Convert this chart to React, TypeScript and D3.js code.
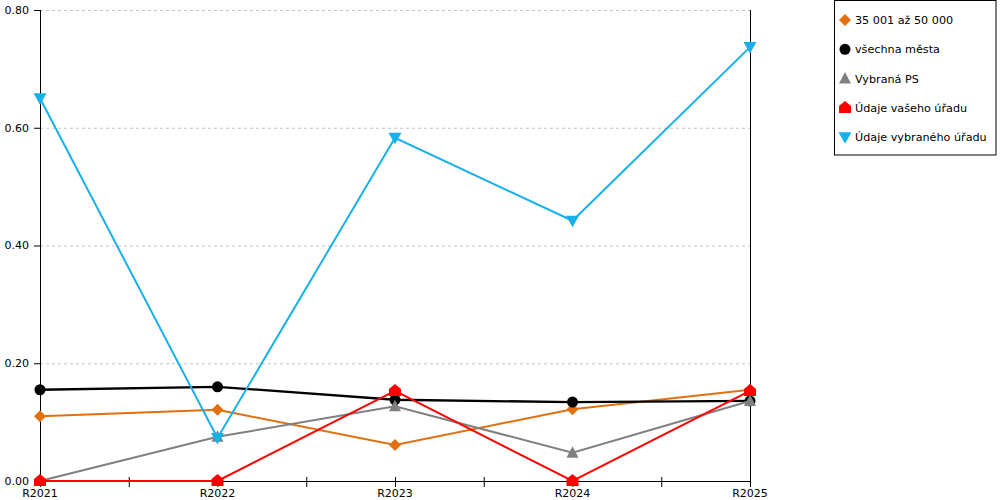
import * as d3 from "d3";

const WIDTH = 1000;
const HEIGHT = 500;

const categories = ["R2021", "R2022", "R2023", "R2024", "R2025"];
const yTicks = [0, 0.2, 0.4, 0.6, 0.8];

const skupina = [0.11, 0.121, 0.061, 0.122, 0.155];
const vsechnaMesta = [0.155, 0.16, 0.138, 0.134, 0.136];
const vybranaPS = [0, 0.075, 0.127, 0.048, 0.136];
const vasUrad = [0, 0, 0.153, 0, 0.153];
const vybranyUrad = [0.65, 0.073, 0.583, 0.442, 0.737];

type Shape = "diamond" | "circle" | "triangle" | "house" | "triangleDown";

const series: { label: string; color: string; shape: Shape; values: number[] }[] = [
    { label: "35 001 až 50 000", color: "#e2700f", shape: "diamond", values: skupina },
    { label: "všechna města", color: "#000000", shape: "circle", values: vsechnaMesta },
    { label: "Vybraná PS", color: "#808080", shape: "triangle", values: vybranaPS },
    { label: "Údaje vašeho úřadu", color: "#ff0000", shape: "house", values: vasUrad },
    { label: "Údaje vybraného úřadu", color: "#17b0ea", shape: "triangleDown", values: vybranyUrad },
];

const FONT = "'DejaVu Sans', Verdana, sans-serif";

function Marker({ shape, x, y, color }: { shape: Shape; x: number; y: number; color: string }) {
    switch (shape) {
        case "diamond":
            return <path d={`M${x},${y - 6}L${x + 6},${y}L${x},${y + 6}L${x - 6},${y}Z`} fill={color} />;
        case "circle":
            return <circle cx={x} cy={y} r={5.5} fill={color} />;
        case "triangle":
            return <path d={`M${x},${y - 6.5}L${x + 6},${y + 5}L${x - 6},${y + 5}Z`} fill={color} />;
        case "house":
            return <path d={`M${x},${y - 7}L${x + 6},${y - 2}L${x + 6},${y + 5}L${x - 6},${y + 5}L${x - 6},${y - 2}Z`} fill={color} />;
        case "triangleDown":
            return <path d={`M${x - 6.5},${y - 5}L${x + 6.5},${y - 5}L${x},${y + 6.5}Z`} fill={color} />;
    }
}

export default function App() {
    const margin = { top: 10, left: 40, right: 250, bottom: 19 };
    const innerBottom = HEIGHT - margin.bottom;
    const x = d3.scalePoint<string>().domain(categories).range([margin.left, WIDTH - margin.right]);
    const y = d3.scaleLinear().domain([0, 0.8]).range([innerBottom, margin.top]);
    const step = x.step();
    const minorTicks = categories.slice(1).map((c) => (x(c) ?? 0) - step / 2);

    const line = d3
        .line<number>()
        .x((_, i) => x(categories[i]) ?? 0)
        .y((d) => y(d));

    const legendX = 834.5;
    const legendY = 0.5;

    return (
        <svg
            width={WIDTH}
            height={HEIGHT}
            style={{ position: "absolute", left: 0, top: 0, background: "#fff" }}
            fontFamily={FONT}
        >
            {/* grid */}
            {yTicks.slice(1).map((t) => (
                <line
                    key={t}
                    x1={margin.left}
                    x2={WIDTH - margin.right}
                    y1={y(t) + 0.5}
                    y2={y(t) + 0.5}
                    stroke="#c4c4c4"
                    strokeDasharray="3,3"
                />
            ))}

            {/* y axis */}
            <line x1={margin.left + 0.5} x2={margin.left + 0.5} y1={y(0.8)} y2={innerBottom} stroke="#000" />
            <line x1={WIDTH - margin.right + 0.5} x2={WIDTH - margin.right + 0.5} y1={y(0.8)} y2={innerBottom} stroke="#000" />
            {yTicks.map((t) => (
                <g key={t}>
                    <line x1={margin.left - 6} x2={margin.left} y1={y(t) + 0.5} y2={y(t) + 0.5} stroke="#000" />
                    <text x={margin.left - 11} y={y(t)} dy="0.35em" textAnchor="end" fontSize={11} fill="#000">
                        {t.toFixed(2)}
                    </text>
                </g>
            ))}

            {/* x axis */}
            <line x1={margin.left} x2={WIDTH - margin.right} y1={innerBottom + 0.5} y2={innerBottom + 0.5} stroke="#000" />
            {[...categories.map((c) => x(c) ?? 0), ...minorTicks].map((px, i) => (
                <line key={i} x1={px + 0.5} x2={px + 0.5} y1={innerBottom - 4} y2={innerBottom + 6} stroke="#000" />
            ))}
            {categories.map((c) => (
                <text key={c} x={x(c)} y={innerBottom + 16} textAnchor="middle" fontSize={11} fill="#000">
                    {c}
                </text>
            ))}

            {/* series */}
            {series.map((s) => (
                <g key={s.label}>
                    <path d={line(s.values) ?? ""} fill="none" stroke={s.color} strokeWidth={s.shape === "circle" ? 2.3 : 2} />
                    {s.values.map((v, i) => (
                        <Marker key={i} shape={s.shape} x={x(categories[i]) ?? 0} y={y(v)} color={s.color} />
                    ))}
                </g>
            ))}

            {/* legend */}
            <rect x={legendX} y={legendY} width={161.5} height={154.5} fill="#fff" stroke="#000" />
            {series.map((s, i) => (
                <g key={s.label} transform={`translate(${legendX + 10.5},${legendY + 19.5 + i * 29.3})`}>
                    <Marker shape={s.shape} x={0} y={0} color={s.color} />
                    <text x={10} y={0} dy="0.35em" fontSize={11.2} fill="#000">
                        {s.label}
                    </text>
                </g>
            ))}
        </svg>
    );
}
